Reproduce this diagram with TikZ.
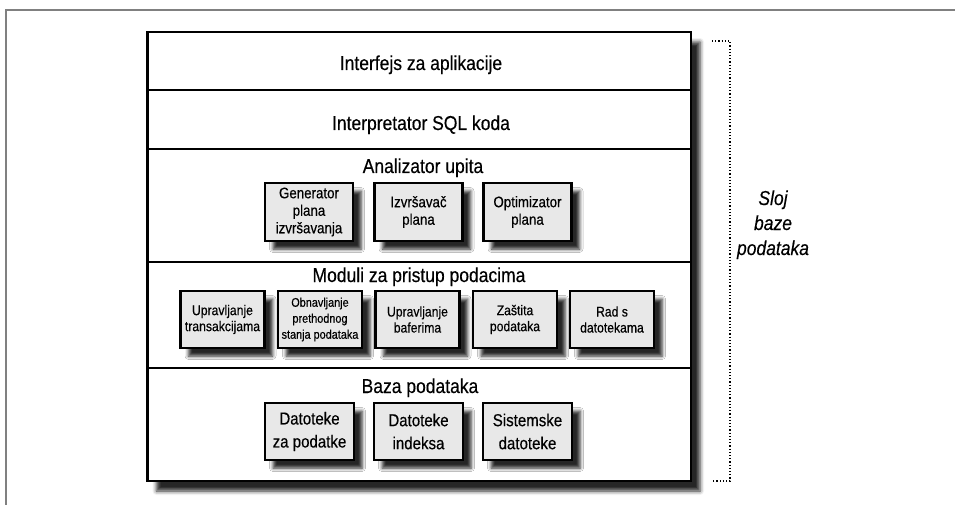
\documentclass[tikz,border=0pt]{standalone}
\usepackage{fontspec}
\setmainfont{Liberation Sans}[FakeStretch=0.87, FakeBold=0.35]
\usetikzlibrary{shadows.blur}
\tikzset{
  bigtxt/.style={font=\fontsize{20.1}{23}\selectfont, inner sep=0pt, anchor=base},
  shd/.style={blur shadow={shadow xshift=8pt, shadow yshift=-8pt, shadow blur radius=3.5pt, shadow opacity=85}},
  ibox/.style={draw=black, line width=2.3pt, fill=black!9, align=center, inner sep=0pt, shd},
  boxA/.style={ibox, minimum width=88pt, minimum height=58pt, font=\fontsize{15.3}{17.5}\selectfont},
  boxM/.style={ibox, minimum width=84pt, minimum height=57pt, font=\fontsize{14}{16}\selectfont},
  boxB/.style={ibox, minimum width=89pt, minimum height=57pt, font=\fontsize{17.3}{23}\selectfont},
  divider/.style={line width=1.8pt, black},
  frameline/.style={line width=1.4pt, black!50},
  bracket/.style={dotted, line width=1.2pt, black},
}
\begin{document}
\begin{tikzpicture}[x=1pt,y=-1pt]
\useasboundingbox (0,0) rectangle (955,505);
% outer frame
\coordinate (fa) at (6,505);
\coordinate (fb) at (6,10);
\coordinate (fc) at (955,10);
\draw[frameline] (fa) -- (fb) -- (fc);

% main box
\node[draw=black, line width=2.3pt, fill=white, minimum width=543.5pt, minimum height=449pt, inner sep=0pt,
  blur shadow={shadow xshift=9pt, shadow yshift=-10pt, shadow blur radius=4pt, shadow opacity=85}] (main) at (419.25,256.5) {};

\coordinate (d1) at (0,90);
\coordinate (d2) at (0,149);
\coordinate (d3) at (0,262);
\coordinate (d4) at (0,368);
\draw[divider] (main.west |- d1) -- (main.east |- d1);
\draw[divider] (main.west |- d2) -- (main.east |- d2);
\draw[divider] (main.west |- d3) -- (main.east |- d3);
\draw[divider] (main.west |- d4) -- (main.east |- d4);

% row labels
\node[bigtxt] (l1) at (421,70) {Interfejs za aplikacije};
\node[bigtxt] (l2) at (421,130) {Interpretator SQL koda};
\node[bigtxt] (l3) at (423,173) {Analizator upita};
\node[bigtxt] (l4) at (419,282) {Moduli za pristup podacima};
\node[bigtxt] (l5) at (420,393) {Baza podataka};

% Analizator boxes
\node[boxA] (gen) at (309,212) {Generator\\plana\\izvršavanja};
\node[boxA] (izv) at (418.5,212) {Izvršavač\\plana};
\node[boxA] (opt) at (527.5,212) {Optimizator\\plana};

% Moduli boxes
\node[boxM] (tra) at (222.5,319.5) {Upravljanje\\transakcijama};
\node[boxM, font=\fontsize{12.5}{16}\selectfont] (obn) at (320,319.5) {Obnavljanje\\prethodnog\\stanja podataka};
\node[boxM] (baf) at (417.5,319.5) {Upravljanje\\baferima};
\node[boxM] (zas) at (515,319.5) {Zaštita\\podataka};
\node[boxM] (rad) at (612,319.5) {Rad s\\datotekama};

% Baza boxes
\node[boxB] (dzp) at (309.5,431.5) {Datoteke\\za podatke};
\node[boxB] (din) at (418.5,431.5) {Datoteke\\indeksa};
\node[boxB] (sis) at (527.5,431.5) {Sistemske\\datoteke};

% bracket
\coordinate (b1) at (712,41);
\coordinate (b2) at (730,41);
\coordinate (b3) at (730,481);
\coordinate (b4) at (713,481);
\draw[bracket] (b1) -- (b2) -- (b3) -- (b4);

\node[font=\fontsize{20.1}{25}\selectfont\itshape, align=center, anchor=base, inner sep=0pt] (sloj) at (773,255) {Sloj\\baze\\podataka};
\end{tikzpicture}
\end{document}
